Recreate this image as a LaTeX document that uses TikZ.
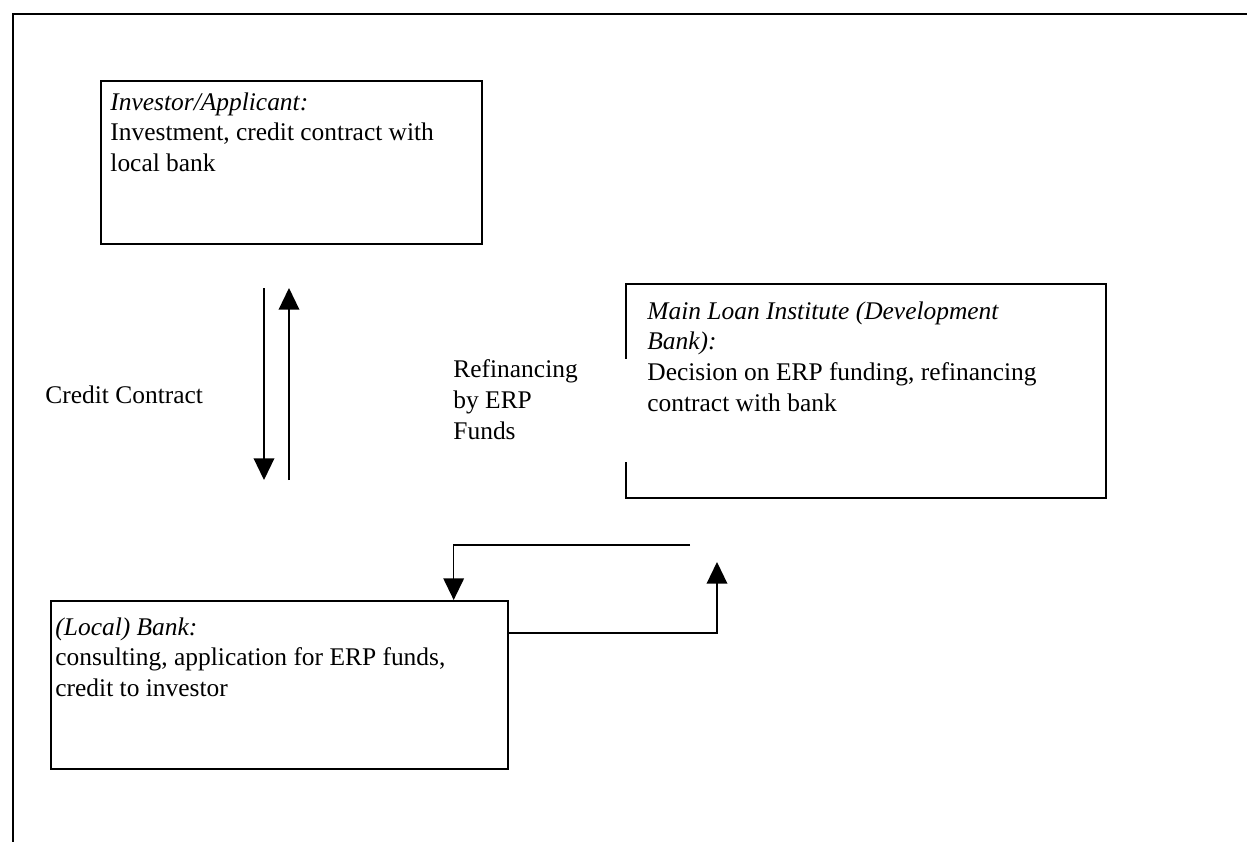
\documentclass[tikz,border=0pt]{standalone}
\usepackage{fontspec}
\setmainfont{Liberation Serif}
\usepackage{tikz}
\usetikzlibrary{arrows.meta}

\begin{document}
\begin{tikzpicture}[x=0.46pt, y=-0.46pt,
	box/.style={draw, line width=0.8pt, anchor=north west, inner sep=0pt},
	txt/.style={anchor=north west, inner sep=0pt, align=flush left, text width=230pt, font=\fontsize{11.7}{14.2}\selectfont},
	arr/.style={line width=0.7pt, -{Triangle[width=9.5pt,length=10pt]}}]
	\useasboundingbox (0,0) rectangle (1247,842);
	\draw[line width=1pt] (1247,14) -- (13,14) -- (13,842);
	\node[box, minimum width=175.3pt, minimum height=75pt] (investor) at (100,80) {};
	\node[box, minimum width=220.8pt, minimum height=98.4pt] (loan) at (625,283) {};
	\node[box, minimum width=210.2pt, minimum height=77.3pt] (bank) at (50,600) {};
	\node[txt] (investortxt) at (110,92) {\textit{Investor/Applicant:}\\Investment, credit contract with\\local bank};
	\node[txt] (loantxt) at (647,301) {\textit{Main Loan Institute (Development}\\\textit{Bank):}\\Decision on ERP funding, refinancing\\contract with bank};
	\node[txt] (banktxt) at (55,617) {\textit{(Local) Bank:}\\consulting, application for ERP funds,\\credit to investor};
	\node[txt, anchor=west, text width=90pt] (credit) at (45,395) {Credit Contract};
	\node[txt, fill=white, text width=81pt, text depth=39pt] (refin) at (453,359) {Refinancing\\by ERP\\Funds};
	\coordinate (down1) at (264,288);
	\coordinate (down2) at (264,480);
	\coordinate (up1) at (289,480);
	\coordinate (up2) at (289,288);
	\coordinate (loanout) at (690,545);
	\coordinate (loanin) at (717,562);
	\draw[arr] (down1) -- (down2);
	\draw[arr] (up1) -- (up2);
	\draw[arr] ([yshift=-15.2pt]bank.north east) -| (loanin);
	\draw[arr] (loanout) -| ([xshift=-25.3pt]bank.north east);
\end{tikzpicture}
\end{document}
